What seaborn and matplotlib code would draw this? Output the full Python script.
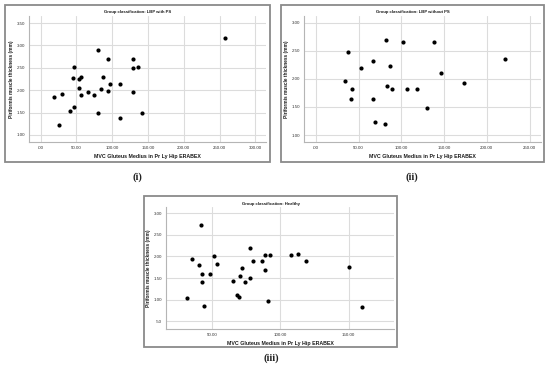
import seaborn as sns
import pandas as pd
import numpy as np
import matplotlib
matplotlib.use("Agg")
import matplotlib.pyplot as plt
from matplotlib.patches import Rectangle

# ---- data ----
# (i) LBP with PS
mvc_ps = [18.7, 30.4, 26.2, 40.7, 47.2, 47.2, 44.9, 53.7, 56.1, 53.3, 56.5, 65.9, 74.8, 80.4,
          80.4, 84.1, 87.4, 93.9, 93.9, 96.3, 110.3, 110.3, 129.4, 129.4, 135.5, 129.4, 141.1, 258.0]
thk_ps = [1.84, 1.92, 1.22, 1.53, 1.62, 2.52, 2.27, 2.25, 2.29, 2.04, 1.90, 1.95, 1.90, 2.89,
          1.48, 2.02, 2.30, 2.70, 1.98, 2.13, 2.13, 1.37, 2.69, 2.49, 2.51, 1.96, 1.49, 3.16]

# (ii) LBP without PS
mvc_nops = [37.9, 34.8, 42.2, 41.4, 53.5, 66.4, 66.8, 68.8, 81.3, 82.0, 83.6, 86.3, 88.7,
            102.3, 107.0, 118.8, 129.7, 138.3, 146.1, 173.4, 221.1]
thk_nops = [2.48, 1.96, 1.82, 1.64, 2.20, 2.33, 1.65, 1.24, 1.20, 2.70, 1.88, 2.24, 1.82,
            2.66, 1.82, 1.83, 1.49, 2.66, 2.10, 1.92, 2.35]

# (iii) Healthy
mvc_h = [31.5, 35.4, 40.0, 41.7, 42.7, 42.7, 43.9, 48.3, 51.5, 53.2, 65.1, 68.0, 69.5, 70.0,
         72.0, 74.1, 77.3, 77.8, 80.2, 86.3, 88.8, 88.5, 90.5, 92.2, 107.8, 112.9, 118.8,
         150.2, 160.0]
thk_h = [1.05, 1.94, 1.81, 2.72, 1.60, 1.42, 0.85, 1.59, 2.01, 1.82, 1.44, 1.10, 1.06, 1.55,
         1.73, 1.42, 2.19, 1.51, 1.89, 1.90, 1.68, 2.04, 0.98, 2.04, 2.04, 2.05, 1.89,
         1.76, 0.83]

titles = ["Group classification: LBP with PS",
          "Group classification: LBP without PS",
          "Group classification: Healthy"]
captions = ["(i)", "(ii)", "(iii)"]

xticks_1 = [0, 50, 100, 150, 200, 250, 300]
yticks_1 = [1.0, 1.5, 2.0, 2.5, 3.0, 3.5]
xticks_2 = [0, 50, 100, 150, 200, 250]
yticks_2 = [1.0, 1.5, 2.0, 2.5, 3.0]
xticks_3 = [50, 100, 150]
yticks_3 = [0.5, 1.0, 1.5, 2.0, 2.5, 3.0]

sns.set_style("white")
plt.rcParams['font.family'] = ['Liberation Sans', 'DejaVu Sans']

W, H = 550, 368
fig = plt.figure(figsize=(W / 100, H / 100), dpi=100)


def fx(px):
    return px / W


def fy(py):
    return 1 - py / H


def fmt(v):
    s = "%.2f" % v
    return s[1:] if s.startswith("0") else s


panels = [
    dict(box=(5, 5, 270, 162), ax=(29, 16, 266, 142), xlim=(-16.4, 315), ylim=(0.84, 3.66),
         x=mvc_ps, y=thk_ps, xt=xticks_1, yt=yticks_1, cap=(137, 177)),
    dict(box=(281, 5, 544, 162), ax=(304, 16, 541, 142), xlim=(-13.7, 263.3), ylim=(0.875, 3.125),
         x=mvc_nops, y=thk_nops, xt=xticks_2, yt=yticks_2, cap=(412, 177)),
    dict(box=(144, 196, 397, 347), ax=(166, 207, 394, 329), xlim=(16.1, 183.2), ylim=(0.325, 3.14),
         x=mvc_h, y=thk_h, xt=xticks_3, yt=yticks_3, cap=(271, 358)),
]

for i, p in enumerate(panels):
    bl, bt, br, bb = p["box"]
    fig.patches.append(Rectangle((fx(bl), fy(bb)), fx(br - bl), (bb - bt) / H,
                                 transform=fig.transFigure, fill=False,
                                 edgecolor="#8a8a8a", linewidth=1.3))
    al, at, ar, ab = p["ax"]
    ax = fig.add_axes([fx(al), fy(ab), fx(ar - al), (ab - at) / H])
    df = pd.DataFrame({"mvc": p["x"], "thk": p["y"]})
    sns.scatterplot(data=df, x="mvc", y="thk", ax=ax, color="black", s=9,
                    edgecolor="black", linewidth=0, zorder=3)
    ax.set_xlim(*p["xlim"])
    ax.set_ylim(*p["ylim"])
    ax.set_xticks(p["xt"])
    ax.set_yticks(p["yt"])
    ax.set_xticklabels([fmt(v) for v in p["xt"]])
    ax.set_yticklabels([fmt(v) for v in p["yt"]])
    ax.grid(True, color="#dcdcdc", linewidth=0.8)
    ax.set_axisbelow(True)
    for s in ["top", "right"]:
        ax.spines[s].set_visible(False)
    for s in ["left", "bottom"]:
        ax.spines[s].set_color("#b5b5b5")
        ax.spines[s].set_linewidth(0.8)
    ax.tick_params(axis="both", length=1.5, width=0.5, color="#b5b5b5",
                   labelsize=3.2, pad=1.5, labelcolor="#333333")
    ax.set_xlabel("MVC Gluteus Medius in Pr Ly Hip ERABEX", fontsize=3.8,
                  fontweight="bold", labelpad=3, color="#1a1a1a")
    ax.set_ylabel("Piriformis muscle thickness (mm)", fontsize=3.4,
                  fontweight="bold", labelpad=1.5, color="#1a1a1a")
    fig.text(fx((bl + br) / 2), fy(bt + 7.5), titles[i], ha="center", va="center",
             fontsize=3.1, fontweight="bold", color="#1a1a1a")
    cx, cy = p["cap"]
    fig.text(fx(cx), fy(cy), captions[i], ha="center", va="center",
             fontsize=7.5, fontweight="bold", family=["Liberation Serif", "DejaVu Serif"],
             color="#222222")

fig.savefig("out.png", dpi=100)
